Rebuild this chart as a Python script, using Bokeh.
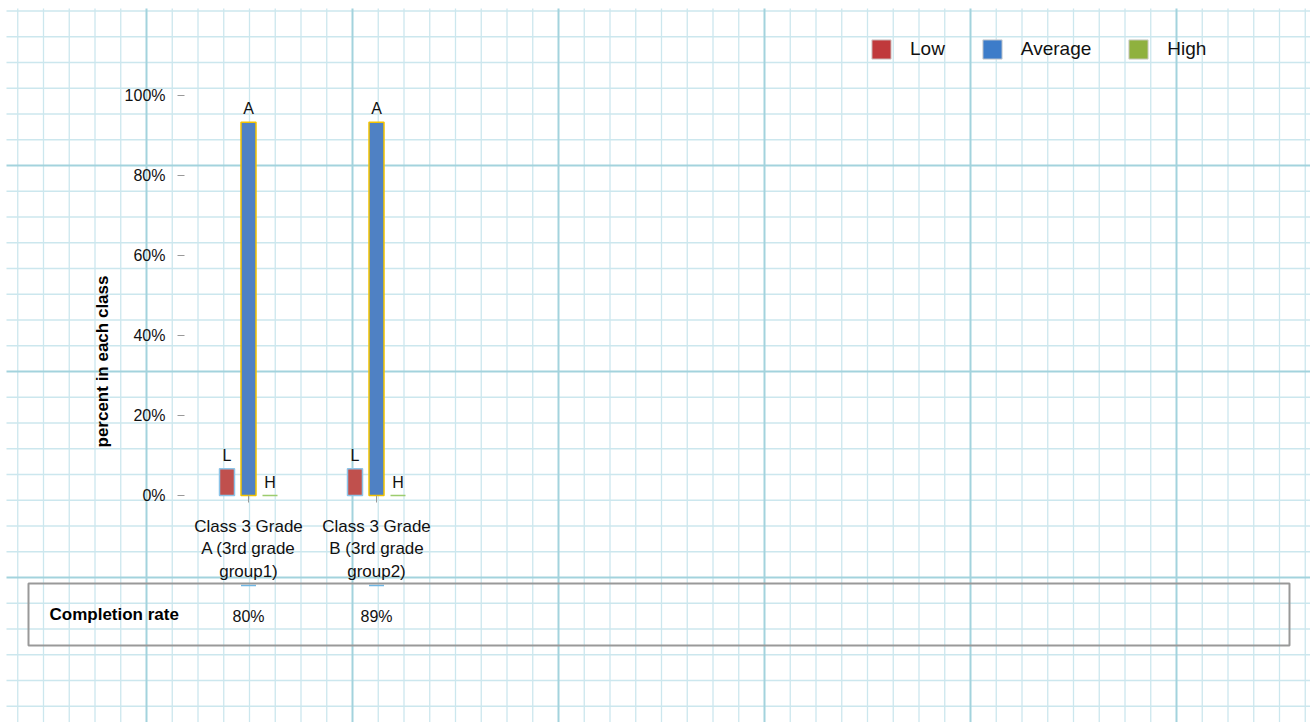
import math
from bokeh.plotting import figure
from bokeh.models import (Range1d, LinearAxis, FixedTicker, PrintfTickFormatter,
                          ColumnDataSource, Legend, LegendItem, BoxAnnotation)
from bokeh.transform import dodge
from bokeh.core.properties import value
from bokeh.embed import file_html
from bokeh.resources import INLINE

# ---------------- data ----------------
classes = ["Class 3 Grade\nA (3rd grade\ngroup1)", "Class 3 Grade\nB (3rd grade\ngroup2)"]
levels = ["Low", "Average", "High"]
level_marks = ["L", "A", "H"]
low = [6.7, 6.7]
average = [93.3, 93.3]
high = [0.0, 0.0]
completion = ["80%", "89%"]
y_ticks = [0, 20, 40, 60, 80, 100]

# ---------------- layout helpers (page pixels -> data) ----------------
W, H = 1310, 722
PX_PER_CAT = 128.0
X0 = -248.0 / PX_PER_CAT
FONT = "Liberation Sans"


def px2x(px):
    return X0 + px / PX_PER_CAT


def py2y(py):
    return (495.0 - py) / 4.0


p = figure(width=W, height=H, output_backend="svg", toolbar_location=None,
           x_range=Range1d(px2x(0), px2x(W)), y_range=Range1d(py2y(H), py2y(0)),
           x_axis_location=None, y_axis_location=None, min_border=0,
           outline_line_color=None, background_fill_color="white",
           border_fill_color="white")
p.xgrid.visible = False
p.ygrid.visible = False

# ---------------- graph-paper background ----------------
vx_min, vx_maj, hy_min, hy_maj = [], [], [], []
for k in range(-5, 46):
    x = 146 + 25.75 * k
    if 6 <= x <= W:
        (vx_maj if k % 8 == 0 else vx_min).append(px2x(x))
for k in range(-6, 23):
    y = 165 + 25.75 * k
    if 8 <= y <= H:
        (hy_maj if k % 8 == 0 else hy_min).append(py2y(y))
ytop, ybot = py2y(8), py2y(H)
xl, xr = px2x(6), px2x(W)
p.segment(x0=vx_min, x1=vx_min, y0=[ytop] * len(vx_min), y1=[ybot] * len(vx_min),
          line_color="#cce7ee", line_width=1.3)
p.segment(x0=[xl] * len(hy_min), x1=[xr] * len(hy_min), y0=hy_min, y1=hy_min,
          line_color="#cce7ee", line_width=1.3)
p.segment(x0=vx_maj, x1=vx_maj, y0=[ytop] * len(vx_maj), y1=[ybot] * len(vx_maj),
          line_color="#a3d3dd", line_width=2)
p.segment(x0=[xl] * len(hy_maj), x1=[xr] * len(hy_maj), y0=hy_maj, y1=hy_maj,
          line_color="#a3d3dd", line_width=2)

# ---------------- bars ----------------
src = ColumnDataSource(dict(x=list(range(len(classes))), low=low, average=average,
                            high=high, completion=completion))
OFF = 21.5 / PX_PER_CAT
BW = 15 / PX_PER_CAT
p.vbar(x=dodge("x", -OFF), top="low", bottom=0, width=BW, source=src,
       fill_color="#c0504d", line_color="#8cc4e8", line_width=1.5)
p.vbar(x=dodge("x", 0), top="average", bottom=0, width=BW, source=src,
       fill_color="#4f81c4", line_color="#f3c300", line_width=1.5)
p.vbar(x=dodge("x", OFF), top="high", bottom=0, width=BW, source=src,
       fill_color="#9bbb59", line_color="#9ccc6e", line_width=1.5)

for off, col, mark in zip([-OFF, 0, OFF], ["low", "average", "high"], level_marks):
    p.text(x=dodge("x", off), y=col, text=value(mark), source=src, y_offset=-5,
           text_align="center", text_baseline="bottom", text_font=value(FONT),
           text_font_size="16px", text_color="#111111")

# ---------------- axes ----------------
yaxis = LinearAxis(fixed_location=px2x(184), ticker=FixedTicker(ticks=y_ticks),
                   formatter=PrintfTickFormatter(format="%d%%"))
yaxis.axis_line_color = None
yaxis.major_tick_out = 7
yaxis.major_tick_in = 0
yaxis.major_tick_line_color = "#999999"
yaxis.minor_tick_line_color = None
yaxis.major_label_standoff = 12
yaxis.major_label_text_font = FONT
yaxis.major_label_text_font_size = "16px"
yaxis.major_label_text_color = "#111111"
yaxis.axis_label = "percent in each class"
yaxis.axis_label_text_font = FONT
yaxis.axis_label_text_font_style = "bold"
yaxis.axis_label_text_font_size = "17px"
yaxis.axis_label_text_color = "#000000"
yaxis.axis_label_standoff = 10
p.add_layout(yaxis, "left")

xaxis = LinearAxis(fixed_location=0, ticker=FixedTicker(ticks=list(range(len(classes)))),
                   major_label_overrides={i: c for i, c in enumerate(classes)})
xaxis.axis_line_color = None
xaxis.major_tick_out = 7
xaxis.major_tick_in = 0
xaxis.major_tick_line_color = "#999999"
xaxis.minor_tick_line_color = None
xaxis.major_label_standoff = 14
xaxis.major_label_text_font = FONT
xaxis.major_label_text_font_size = "17px"
xaxis.major_label_text_color = "#111111"
p.add_layout(xaxis, "below")

# ---------------- completion table ----------------
p.add_layout(BoxAnnotation(left=px2x(28), right=px2x(1289), top=py2y(583), bottom=py2y(645),
                           fill_alpha=0, line_color="#999999", line_alpha=1.0,
                           line_width=2))
p.scatter(x="x", y=py2y(585), source=src, marker="dash", size=15,
          line_color="#6fb6e4", line_width=1.5)
p.text(x=[px2x(49)], y=[py2y(614)], text=["Completion rate"], text_align="left",
       text_baseline="middle", text_font=value(FONT), text_font_style="bold",
       text_font_size="17px", text_color="#000000")
p.text(x="x", y=py2y(616), text="completion", source=src, text_align="center",
       text_baseline="middle", text_font=value(FONT), text_font_size="16px",
       text_color="#111111")

# ---------------- legend ----------------
leg_colors = ["#c0393b", "#3d7cc9", "#8fb13e"]
items = []
for name, c in zip(levels, leg_colors):
    dummy = ColumnDataSource(dict(l=[math.nan], r=[math.nan], t=[math.nan], b=[math.nan]))
    r = p.quad(left="l", right="r", top="t", bottom="b", source=dummy, fill_color=c,
               line_color="#d0d0d0", line_width=1)
    items.append(LegendItem(label=name, renderers=[r]))
legend = Legend(items=items, orientation="horizontal", location=(869, 661),
                glyph_width=24, glyph_height=24, label_height=24, label_standoff=17,
                spacing=35, padding=0, margin=0, border_line_color=None,
                background_fill_alpha=0, label_text_font=FONT,
                label_text_font_size="19px", label_text_color="#111111")
p.add_layout(legend, "center")

open("out.html", "w").write(file_html(p, INLINE))
